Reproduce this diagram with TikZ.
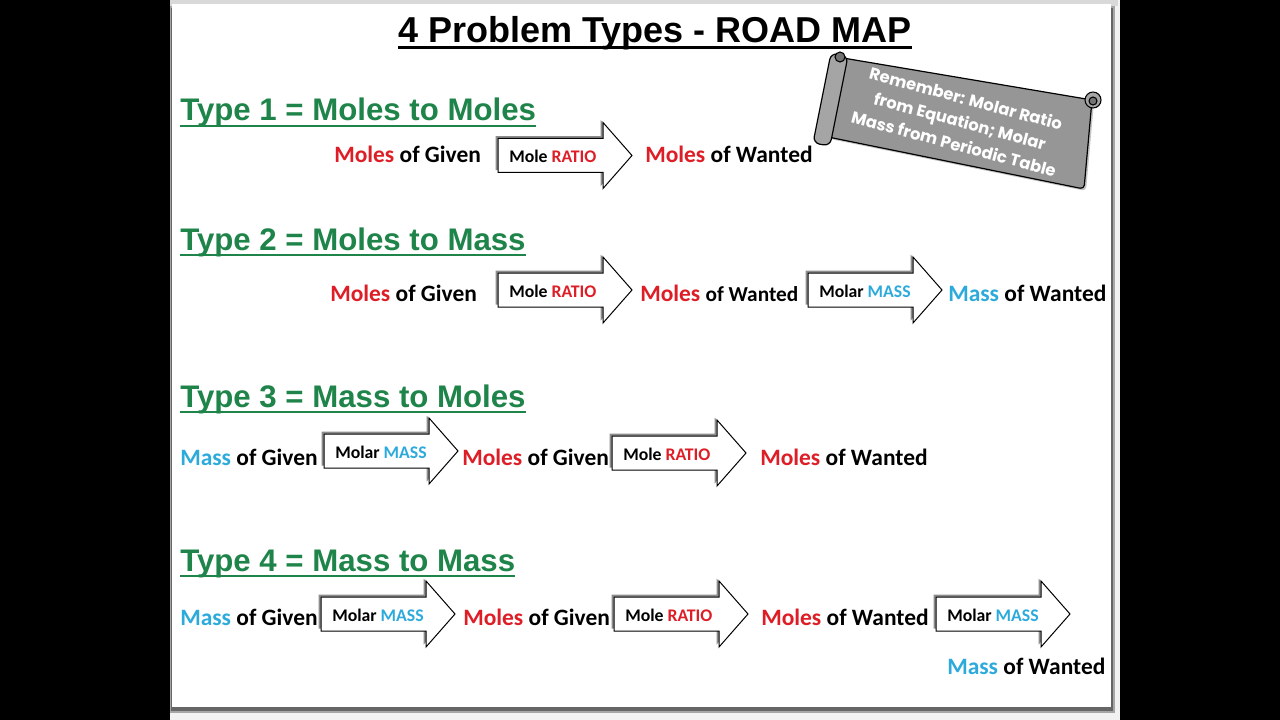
\documentclass[tikz,border=0pt]{standalone}
\usepackage{fontspec}
\setmainfont{Carlito}
\newfontfamily\arialf{Liberation Sans}
\newfontfamily\scrollf{Poppins}
\usetikzlibrary{shadows}
\definecolor{molred}{RGB}{222,30,38}
\definecolor{masscyan}{RGB}{45,170,220}
\definecolor{typegreen}{RGB}{30,132,73}
\definecolor{scrollgray}{RGB}{150,150,150}
\definecolor{rollgray}{RGB}{165,165,165}
\newcommand\Mo{\textcolor{molred}{Moles}}
\newcommand\Ma{\textcolor{masscyan}{Mass}}
\newcommand\blockarrow[4]{%
  \path[blkarrow] (#2,#3-17) -- (#2+105,#3-17) -- (#2+105,#3-33) -- (#2+134,#3)
     -- (#2+105,#3+33) -- (#2+105,#3+17) -- (#2,#3+17) -- cycle;
  \node[lbl] (#1) at (#2+11,#3+7) {#4};}
\begin{document}
\begin{tikzpicture}[x=0.75pt,y=-0.75pt,
  txt/.style={anchor=base west, inner sep=0pt, font=\fontsize{17.6}{21}\selectfont\bfseries},
  lbl/.style={anchor=base west, inner sep=0pt, font=\fontsize{13.3}{16}\selectfont\bfseries},
  typetitle/.style={anchor=base west, inner sep=0pt, text=typegreen, font=\arialf\fontsize{23.4}{28}\selectfont\bfseries},
  blkarrow/.style={draw=black, line width=0.75pt, fill=white,
     drop shadow={shadow xshift=-1.8pt, shadow yshift=1.8pt, opacity=0.45, fill=black}},
  uline/.style={line width=2pt},
  scrolltext/.style={text=white, align=center, inner sep=0pt, font=\scrollf\fontsize{12.3}{17.5}\selectfont\bfseries}]
\useasboundingbox (0,0) rectangle (1280,720);
% background and slide
\fill[black] (0,0) rectangle (1280,720);
\fill[black!5] (170,0) rectangle (1120,720);
\fill[black!15] (170,0) rectangle (1118,6);
\fill[black!35] (170,6) rectangle (1115,713);
\fill[black!60] (171,8) rectangle (1113,711);
\fill[white] (172,4) rectangle (1111,707);
% title
\node[anchor=base, inner sep=0pt, font=\arialf\fontsize{27}{32}\selectfont\bfseries] (title) at (655,43) {4 Problem Types - ROAD MAP};
\draw[line width=2.2pt] ([yshift=-3.3pt]title.base west) -- ([yshift=-3.3pt]title.base east);
% type titles
\node[typetitle] (t1) at (180,121) {Type 1 = Moles to Moles};
\node[typetitle] (t2) at (180,250) {Type 2 = Moles to Mass};
\node[typetitle] (t3) at (180,407) {Type 3 = Mass to Moles};
\node[typetitle] (t4) at (180,571) {Type 4 = Mass to Mass};
\foreach \t in {t1,t2,t3,t4}
  \draw[uline, typegreen] ([yshift=-3.8pt]\t.base west) -- ([yshift=-3.8pt]\t.base east);
% row 1
\node[txt] (r1a) at (334,163) {\Mo{} of Given};
\blockarrow{r1x}{498}{155.5}{Mole \textcolor{molred}{RATIO}}
\node[txt] (r1b) at (645,163) {\Mo{} of Wanted};
% row 2
\node[txt] (r2a) at (330,301) {\Mo{} of Given};
\blockarrow{r2x}{498}{290}{Mole \textcolor{molred}{RATIO}}
\node[txt] (r2b) at (640,301) {\Mo{} {\fontsize{16}{20}\selectfont of Wanted}};
\blockarrow{r2y}{808}{290}{Molar \textcolor{masscyan}{MASS}}
\node[txt] (r2c) at (948,301) {\Ma{} of Wanted};
% row 3
\node[txt] (r3a) at (180,465) {\Ma{} of Given};
\blockarrow{r3x}{324}{451}{Molar \textcolor{masscyan}{MASS}}
\node[txt] (r3b) at (462,465) {\Mo{} of Given};
\blockarrow{r3y}{612}{453}{Mole \textcolor{molred}{RATIO}}
\node[txt] (r3c) at (760,465) {\Mo{} of Wanted};
% row 4
\node[txt] (r4a) at (180,625) {\Ma{} of Given};
\blockarrow{r4x}{321}{614}{Molar \textcolor{masscyan}{MASS}}
\node[txt] (r4b) at (463,625) {\Mo{} of Given};
\blockarrow{r4y}{614}{614}{Mole \textcolor{molred}{RATIO}}
\node[txt] (r4c) at (761,625) {\Mo{} of Wanted};
\blockarrow{r4z}{936}{614}{Molar \textcolor{masscyan}{MASS}}
\node[txt] (r4d) at (947,674) {\Ma{} of Wanted};
% scroll
\path[draw=black, line width=0.9pt, fill=scrollgray, rounded corners=3pt,
  drop shadow={shadow xshift=1.5pt, shadow yshift=-1.5pt, opacity=0.45}]
  (843,58) -- (1092,100) -- (1084,189) -- (828,137) -- cycle;
\path[draw=black, line width=0.9pt, fill=rollgray, rounded corners=5pt]
  (831,53) -- (848,56) -- (830,146) -- (813,143) -- cycle;
\draw[line width=0.8pt, fill=black!55] (840,57) circle (5);
\draw[line width=0.8pt, fill=rollgray] (1093,100) circle (8);
\draw[line width=0.8pt, fill=black!55] (1093,101) circle (4);
\node[scrolltext, rotate=-15] (memo) at (960,121) {Remember: Molar Ratio\\from Equation; Molar\\Mass from Periodic Table};
\end{tikzpicture}
\end{document}
